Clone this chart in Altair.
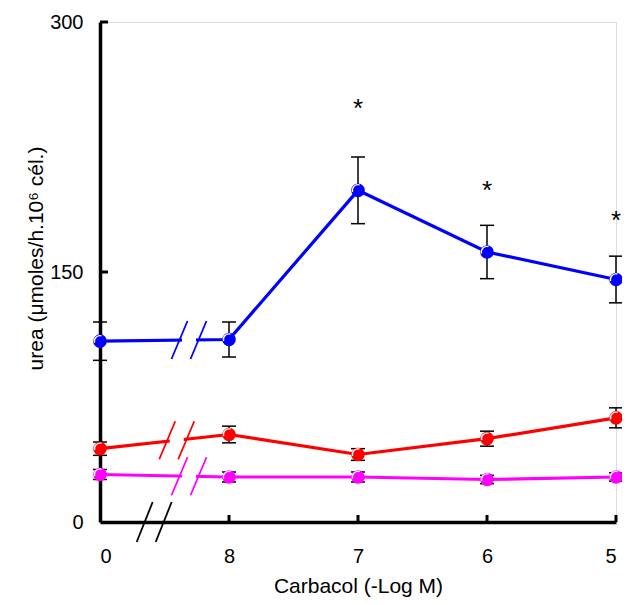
import altair as alt
import pandas as pd

# ---- data ----
x_labels = ["0", "8", "7", "6", "5"]
series_names = ["control", "treat_a", "treat_b"]
series_colors = ["#0000ff", "#ff0000", "#ff00ff"]

blue_mean = [108.5, 109.5, 199.0, 162.0, 145.5]
blue_err = [11.5, 10.5, 20.0, 16.0, 14.0]
red_mean = [44.0, 52.5, 40.5, 50.0, 62.5]
red_err = [4.0, 5.0, 3.5, 4.5, 6.0]
mag_mean = [28.5, 27.0, 27.0, 25.5, 27.0]
mag_err = [3.0, 3.0, 3.0, 2.5, 2.5]

star_x = [2, 3, 4]
star_y = [243, 194, 176]

y_ticks = [150, 300]
x_ticks = [1, 2, 3, 4]

# axis-break positions (in x index units) per series, and for the x axis
break_x = {"control": 0.69, "treat_a": 0.595, "treat_b": 0.69}
axis_break_x = 0.42

W, H = 516, 500
PX_X = W / 4.0
PX_Y = H / 300.0

rows = []
for name, m, e in zip(series_names, [blue_mean, red_mean, mag_mean], [blue_err, red_err, mag_err]):
    for i, (mv, ev) in enumerate(zip(m, e)):
        rows.append({"series": name, "xi": i, "mean": mv, "lo": mv - ev, "hi": mv + ev})
df = pd.DataFrame(rows)

# break marks derived from data
hdx = 8 / PX_X
hdy = 19 / PX_Y
sep = 9.5 / PX_X
gap = 7 / PX_X
slashes = []
gaps = []
for name, m in zip(series_names, [blue_mean, red_mean, mag_mean]):
    cx = break_x[name]
    cy = m[0] + (m[1] - m[0]) * cx
    gaps.append({"series": name, "x": cx - gap, "x2": cx + gap, "y": cy})
    for off in (-sep, sep):
        slashes.append({"series": name, "x": cx + off - hdx, "x2": cx + off + hdx,
                        "y": cy - hdy, "y2": cy + hdy})
gap_df = pd.DataFrame(gaps)
slash_df = pd.DataFrame(slashes)
axis_slash_df = pd.DataFrame([
    {"x": axis_break_x + off - hdx, "x2": axis_break_x + off + hdx, "y": -20 / PX_Y, "y2": 20 / PX_Y}
    for off in (-sep, sep)
])

star_df = pd.DataFrame({"xi": star_x, "y": star_y})
ytick_df = pd.DataFrame({"v": y_ticks})
xtick_df = pd.DataFrame({"v": x_ticks})

FONT = "Liberation Sans"
label_expr = "[" + ",".join("'%s'" % s for s in x_labels) + "][datum.value]"

xscale = alt.Scale(domain=[0, 4], nice=False, zero=False)
yscale = alt.Scale(domain=[0, 300], nice=False)
color = alt.Color("series:N", scale=alt.Scale(domain=series_names, range=series_colors), legend=None)

x_enc = alt.X("xi:Q", scale=xscale,
              axis=alt.Axis(values=[0, 1, 2, 3, 4], labelExpr=label_expr, title="Carbacol (-Log M)",
                            labelPadding=24, titlePadding=9))
y_enc = alt.Y("mean:Q", scale=yscale,
              axis=alt.Axis(values=[0, 150, 300], title="urea (μmoles/h.10⁶ cél.)",
                            labelPadding=17, titleX=-54, titleY=236))

base = alt.Chart(df)

errbars = base.mark_rule(color="black", strokeWidth=1.5).encode(
    x=alt.X("xi:Q", scale=xscale), y=alt.Y("lo:Q", scale=yscale), y2="hi:Q")
caps_lo = base.mark_point(shape="M -1 0 L 1 0", color="black", filled=False, strokeWidth=1.5, size=196, opacity=1).encode(
    x=alt.X("xi:Q", scale=xscale), y=alt.Y("lo:Q", scale=yscale))
caps_hi = base.mark_point(shape="M -1 0 L 1 0", color="black", filled=False, strokeWidth=1.5, size=196, opacity=1).encode(
    x=alt.X("xi:Q", scale=xscale), y=alt.Y("hi:Q", scale=yscale))

lines = base.mark_line(strokeWidth=3.2).encode(x=x_enc, y=y_enc, color=color, detail="series:N")

gap_layer = alt.Chart(gap_df).mark_rule(color="white", strokeWidth=7).encode(
    x=alt.X("x:Q", scale=xscale), x2="x2:Q", y=alt.Y("y:Q", scale=yscale))
slash_layer = alt.Chart(slash_df).mark_rule(strokeWidth=1.8).encode(
    x=alt.X("x:Q", scale=xscale), x2="x2:Q", y=alt.Y("y:Q", scale=yscale), y2="y2:Q", color=color)
axis_slash_layer = alt.Chart(axis_slash_df).mark_rule(color="black", strokeWidth=1.8).encode(
    x=alt.X("x:Q", scale=xscale), x2="x2:Q", y=alt.Y("y:Q", scale=yscale), y2="y2:Q")

points = base.mark_point(shape="circle", filled=True, size=185, opacity=1).encode(
    x=alt.X("xi:Q", scale=xscale), y=alt.Y("mean:Q", scale=yscale), color=color)
highlight = base.mark_point(shape="M -0.72 0.2 A 0.75 0.75 0 0 1 0.2 -0.72", filled=False,
                            color="white", strokeWidth=1.3, size=225, opacity=1).encode(
    x=alt.X("xi:Q", scale=xscale), y=alt.Y("mean:Q", scale=yscale))

stars = alt.Chart(star_df).mark_text(text="*", fontSize=26, font=FONT, color="black", baseline="alphabetic").encode(
    x=alt.X("xi:Q", scale=xscale), y=alt.Y("y:Q", scale=yscale))

ytick_layer = alt.Chart(ytick_df).mark_rule(color="black", strokeWidth=3).encode(
    y=alt.Y("v:Q", scale=yscale), x=alt.value(0), x2=alt.value(8))
xtick_layer = alt.Chart(xtick_df).mark_rule(color="black", strokeWidth=3).encode(
    x=alt.X("v:Q", scale=xscale), y=alt.value(H), y2=alt.value(H - 7))

chart = alt.layer(
    lines, gap_layer, slash_layer, axis_slash_layer, errbars, caps_lo, caps_hi,
    points, highlight, stars, ytick_layer, xtick_layer
).properties(
    width=W, height=H,
    autosize=alt.AutoSizeParams(type="none"),
    padding={"left": 92, "top": 14, "right": 6, "bottom": 75},
).configure_view(stroke=None).configure(background="white").configure_axis(
    ticks=False, grid=False, domainWidth=3.5, domainColor="black",
    labelFontSize=20, titleFontSize=21, labelFont=FONT, titleFont=FONT,
    titleFontWeight="normal", labelColor="black", titleColor="black",
)

chart.save("out.html", embed_options={"renderer": "svg", "actions": False})
